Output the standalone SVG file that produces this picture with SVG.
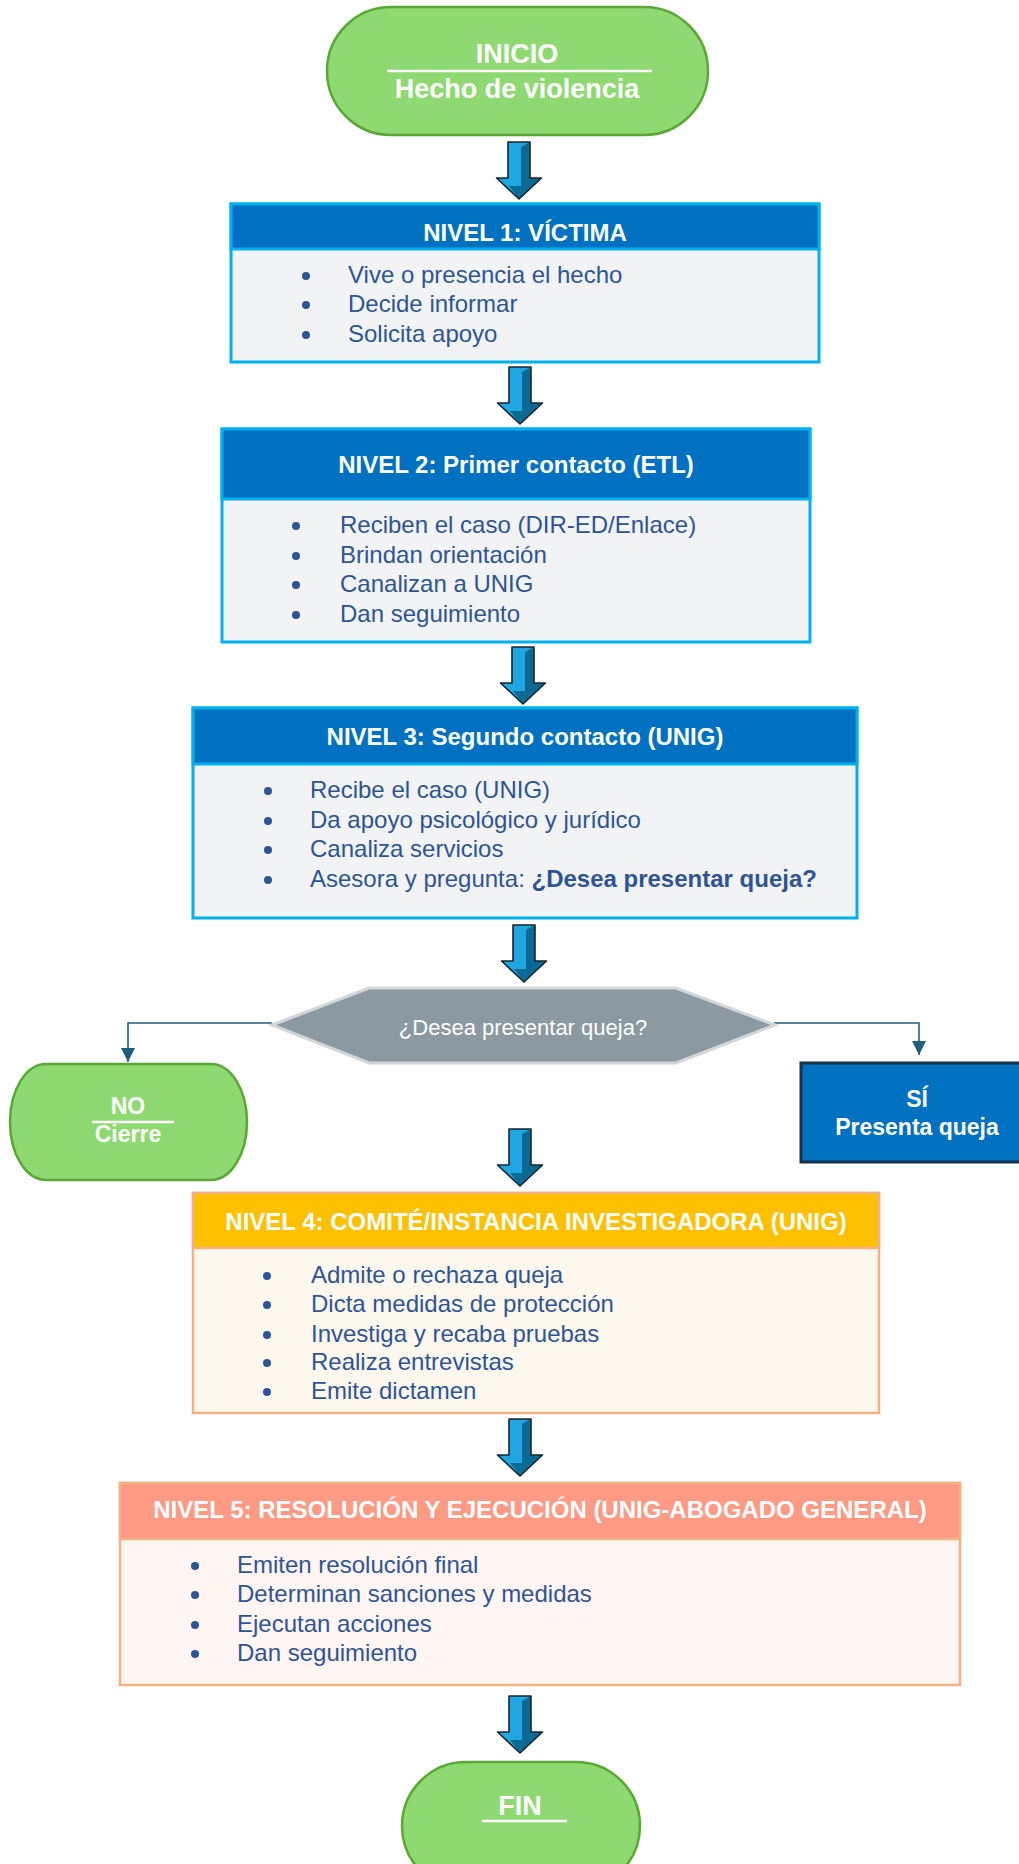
<svg xmlns="http://www.w3.org/2000/svg" xmlns:xlink="http://www.w3.org/1999/xlink" width="1019" height="1864" viewBox="0 0 1019 1864">
<style>
text{font-family:"Liberation Sans",Arial,sans-serif}
.pill{fill:#8FD972;stroke:#5BA836;stroke-width:2.5}
.tw{fill:#fff;font-weight:bold;text-anchor:middle}
.t27{font-size:27px}
.t24{font-size:24px}
.t23{font-size:23px}
.hb{fill:#0070C0;stroke:#00B0F0;stroke-width:3}
.bb{fill:#F2F3F5;stroke:#00B0F0;stroke-width:3}
.ho{fill:#FFC000;stroke:#F4B183;stroke-width:2.5}
.bo{fill:#FDF8EE;stroke:#F4B183;stroke-width:2.5}
.hs{fill:#FF9A85;stroke:#F4B183;stroke-width:2.5}
.bs{fill:#FFF5F3;stroke:#F4B183;stroke-width:2.5}
.item{fill:#2F5496;font-size:24px}
.dot{fill:#2F5496}
.ul{stroke:#fff;stroke-width:2.5}
.conn{fill:none;stroke:#1F5F7E;stroke-width:1.6}
</style>
<defs>
<marker id="tri" markerUnits="userSpaceOnUse" markerWidth="14" markerHeight="16" refX="14" refY="7" orient="auto">
<path d="M0,0 L14,7 L0,14 Z" fill="#1F5F7E"/>
</marker>
<g id="blockArrow">
<path d="M-11,0 H11 V36 H22.5 L0,57 L-22.5,36 H-11 Z" fill="#0B6A93"/>
<path d="M-11,0 H11 L2,5 V44 L0,57 L-22.5,36 H-11 Z" fill="#20A7E2"/>
<path d="M2,44 L0,57 L-10,44 Z" fill="#0B6A93"/>
<path d="M-11,0 H11 V36 H22.5 L0,57 L-22.5,36 H-11 Z" fill="none" stroke="#17262E" stroke-width="1.6" stroke-linejoin="round"/>
</g>
</defs>
<rect width="1019" height="1864" fill="#fff"/>

<g id="connectors">
<use xlink:href="#blockArrow" href="#blockArrow" transform="translate(519,142)"/>
<use xlink:href="#blockArrow" href="#blockArrow" transform="translate(520,367)"/>
<use xlink:href="#blockArrow" href="#blockArrow" transform="translate(523,647)"/>
<use xlink:href="#blockArrow" href="#blockArrow" transform="translate(524,925)"/>
<use xlink:href="#blockArrow" href="#blockArrow" transform="translate(520,1129)"/>
<use xlink:href="#blockArrow" href="#blockArrow" transform="translate(520,1419)"/>
<use xlink:href="#blockArrow" href="#blockArrow" transform="translate(520,1696)"/>
<path class="conn" d="M272,1023 H128 V1062" marker-end="url(#tri)"/>
<path class="conn" d="M774,1023 H919 V1055" marker-end="url(#tri)"/>
</g>

<g id="inicio">
<rect class="pill" x="327" y="7" width="381" height="128" rx="64" ry="64"/>
<text class="tw t27" x="517" y="63">INICIO</text>
<line class="ul" x1="387" y1="71" x2="652" y2="71"/>
<text class="tw t27" x="517" y="98">Hecho de violencia</text>
</g>

<g id="nivel1">
<rect class="bb" x="231" y="204" width="588" height="158"/>
<rect class="hb" x="231" y="204" width="588" height="45"/>
<text class="tw t24" x="525" y="241">NIVEL 1: VÍCTIMA</text>
<circle class="dot" cx="306" cy="276" r="4"/>
<circle class="dot" cx="306" cy="305" r="4"/>
<circle class="dot" cx="306" cy="335" r="4"/>
<text class="item" x="348" y="283">Vive o presencia el hecho</text>
<text class="item" x="348" y="312">Decide informar</text>
<text class="item" x="348" y="342">Solicita apoyo</text>
</g>

<g id="nivel2">
<rect class="bb" x="222" y="429" width="588" height="213"/>
<rect class="hb" x="222" y="429" width="588" height="70"/>
<text class="tw t24" x="516" y="473">NIVEL 2: Primer contacto (ETL)</text>
<circle class="dot" cx="296" cy="526" r="4"/>
<circle class="dot" cx="296" cy="556" r="4"/>
<circle class="dot" cx="296" cy="585" r="4"/>
<circle class="dot" cx="296" cy="615" r="4"/>
<text class="item" x="340" y="533">Reciben el caso (DIR-ED/Enlace)</text>
<text class="item" x="340" y="563">Brindan orientación</text>
<text class="item" x="340" y="592">Canalizan a UNIG</text>
<text class="item" x="340" y="622">Dan seguimiento</text>
</g>

<g id="nivel3">
<rect class="bb" x="193" y="708" width="664" height="210"/>
<rect class="hb" x="193" y="708" width="664" height="56"/>
<text class="tw t24" x="525" y="745">NIVEL 3: Segundo contacto (UNIG)</text>
<circle class="dot" cx="268" cy="791" r="4"/>
<circle class="dot" cx="268" cy="821" r="4"/>
<circle class="dot" cx="268" cy="850" r="4"/>
<circle class="dot" cx="268" cy="880" r="4"/>
<text class="item" x="310" y="798">Recibe el caso (UNIG)</text>
<text class="item" x="310" y="828">Da apoyo psicológico y jurídico</text>
<text class="item" x="310" y="857">Canaliza servicios</text>
<text class="item" x="310" y="887">Asesora y pregunta: <tspan font-weight="bold">¿Desea presentar queja?</tspan></text>
</g>

<g id="decision">
<polygon points="272,1025 369,988 676,988 775,1025 676,1063 369,1063" fill="#8A9AA0" stroke="#D3D6D8" stroke-width="3"/>
<text x="523" y="1035" fill="#fff" font-size="22" text-anchor="middle">¿Desea presentar queja?</text>
</g>

<g id="no">
<rect class="pill" x="10" y="1064" width="237" height="116" rx="36" ry="58"/>
<text class="tw t23" x="128" y="1114">NO</text>
<line class="ul" x1="92" y1="1122" x2="174" y2="1122"/>
<text class="tw t23" x="128" y="1142">Cierre</text>
</g>

<g id="si">
<rect x="801" y="1063" width="220" height="99" fill="#0070C0" stroke="#14324A" stroke-width="3"/>
<text class="tw t23" x="917" y="1107">SÍ</text>
<text class="tw t23" x="917" y="1135">Presenta queja</text>
</g>

<g id="nivel4">
<rect class="bo" x="193" y="1193" width="686" height="220"/>
<rect class="ho" x="193" y="1193" width="686" height="55"/>
<text class="tw t24" x="536" y="1230">NIVEL 4: COMITÉ/INSTANCIA INVESTIGADORA (UNIG)</text>
<circle class="dot" cx="267" cy="1276" r="4"/>
<circle class="dot" cx="267" cy="1305" r="4"/>
<circle class="dot" cx="267" cy="1335" r="4"/>
<circle class="dot" cx="267" cy="1363" r="4"/>
<circle class="dot" cx="267" cy="1392" r="4"/>
<text class="item" x="311" y="1283">Admite o rechaza queja</text>
<text class="item" x="311" y="1312">Dicta medidas de protección</text>
<text class="item" x="311" y="1342">Investiga y recaba pruebas</text>
<text class="item" x="311" y="1370">Realiza entrevistas</text>
<text class="item" x="311" y="1399">Emite dictamen</text>
</g>

<g id="nivel5">
<rect class="bs" x="120" y="1483" width="840" height="202"/>
<rect class="hs" x="120" y="1483" width="840" height="56"/>
<text class="tw t24" x="540" y="1518">NIVEL 5: RESOLUCIÓN Y EJECUCIÓN (UNIG-ABOGADO GENERAL)</text>
<circle class="dot" cx="195" cy="1566" r="4"/>
<circle class="dot" cx="195" cy="1595" r="4"/>
<circle class="dot" cx="195" cy="1625" r="4"/>
<circle class="dot" cx="195" cy="1654" r="4"/>
<text class="item" x="237" y="1573">Emiten resolución final</text>
<text class="item" x="237" y="1602">Determinan sanciones y medidas</text>
<text class="item" x="237" y="1632">Ejecutan acciones</text>
<text class="item" x="237" y="1661">Dan seguimiento</text>
</g>

<g id="fin">
<rect class="pill" x="402" y="1762" width="238" height="128" rx="64" ry="64"/>
<text class="tw t27" x="520" y="1815">FIN</text>
<line class="ul" x1="482" y1="1821" x2="567" y2="1821"/>
</g>
</svg>
